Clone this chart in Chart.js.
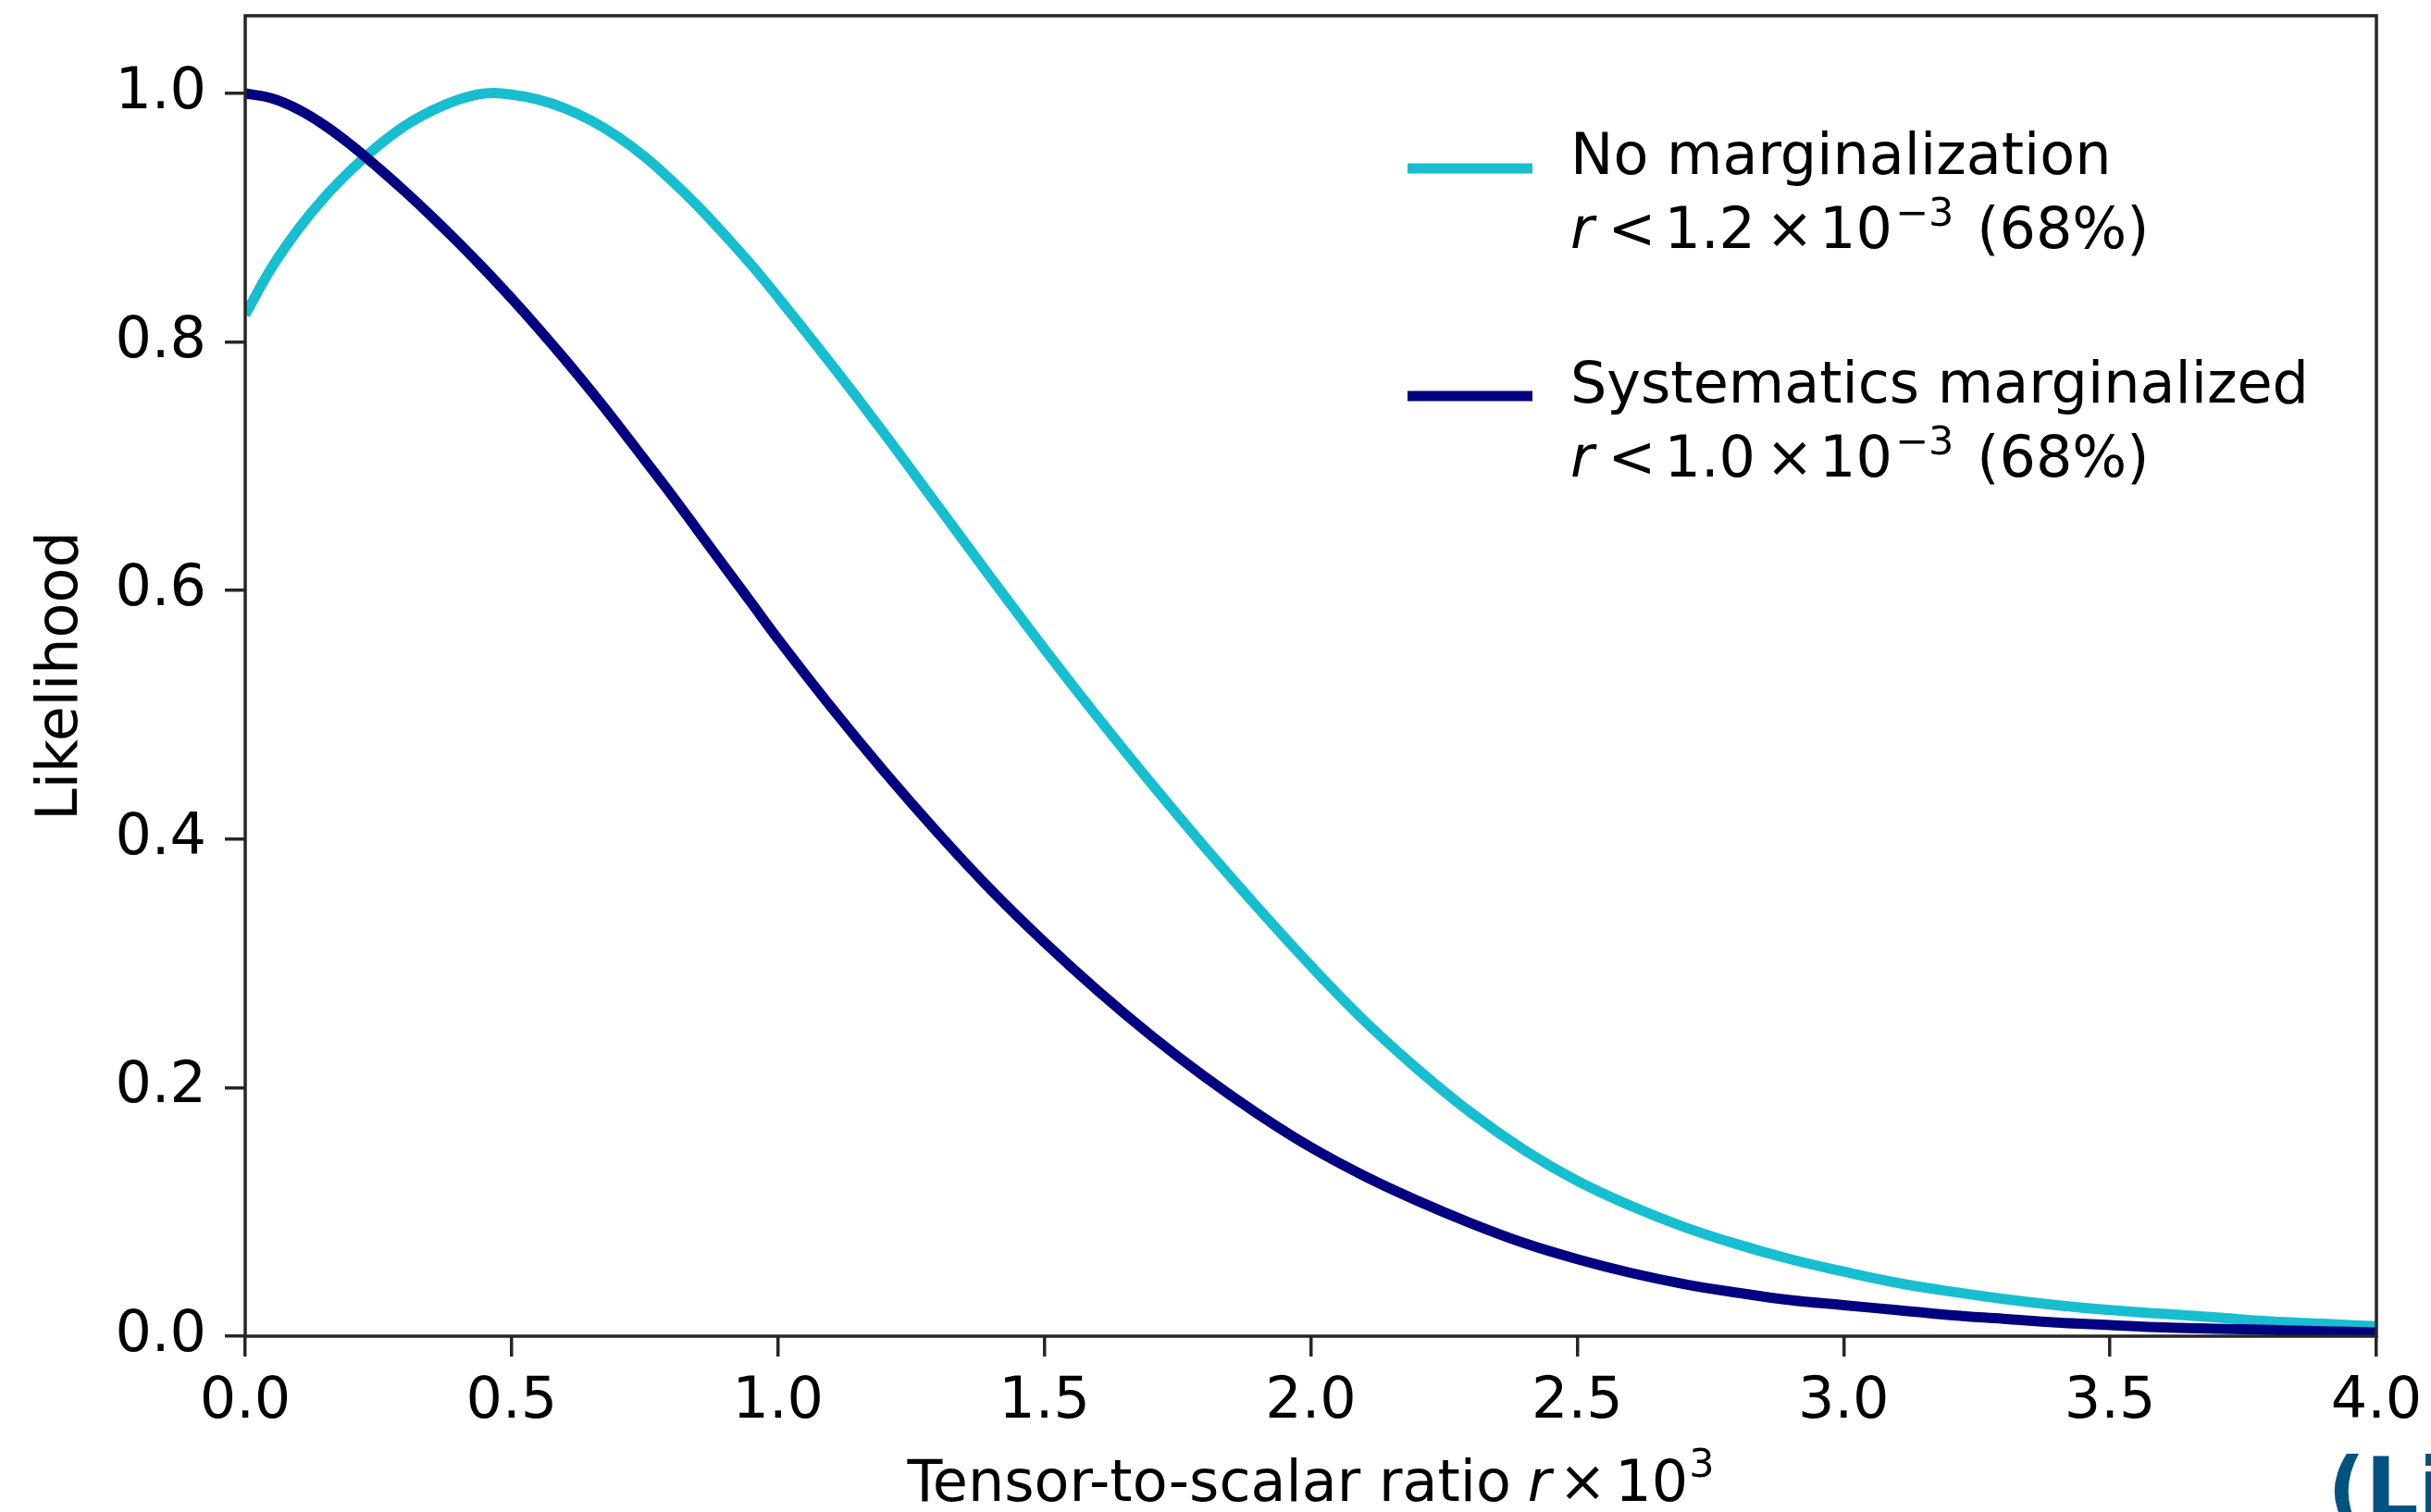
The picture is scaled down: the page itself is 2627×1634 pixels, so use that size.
<!DOCTYPE html>
<html>
<head>
<meta charset="utf-8">
<script src="https://cdn.jsdelivr.net/npm/chart.js@4.4.1/dist/chart.umd.min.js"></script>
<style>
  html, body { margin: 0; padding: 0; background: #ffffff; }
  #wrap { width: 2627px; height: 1634px; position: relative; background: #ffffff; }
  canvas { display: block; }
</style>
</head>
<body>
<div id="wrap"><canvas id="chart" width="2627" height="1634"></canvas></div>
<script>
// ---- Data ----
const rValues = [0, 0.05, 0.1, 0.15, 0.2, 0.25, 0.3, 0.35, 0.4, 0.45, 0.5, 0.55, 0.6, 0.65, 0.7, 0.75, 0.8, 0.85, 0.9, 0.95,
                 1.0, 1.1, 1.2, 1.3, 1.4, 1.5, 1.6, 1.7, 1.8, 1.9, 2.0, 2.1, 2.2, 2.3, 2.4, 2.5, 2.6, 2.7, 2.8, 2.9,
                 3.0, 3.1, 3.2, 3.3, 3.4, 3.5, 3.6, 3.7, 3.8, 3.9, 4.0];

const noMarginalization = [0.822, 0.860, 0.891, 0.917, 0.939, 0.958, 0.974, 0.986, 0.995, 1.000, 0.999, 0.995, 0.988, 0.978, 0.965, 0.949, 0.930, 0.909, 0.886, 0.862,
                           0.836, 0.782, 0.726, 0.668, 0.610, 0.553, 0.498, 0.445, 0.394, 0.345, 0.298, 0.254, 0.215, 0.180, 0.150, 0.125, 0.105, 0.088, 0.074, 0.062,
                           0.052, 0.043, 0.036, 0.030, 0.025, 0.021, 0.018, 0.015, 0.012, 0.010, 0.008];

const systematicsMarginalized = [1.000, 0.996, 0.987, 0.974, 0.958, 0.940, 0.921, 0.901, 0.880, 0.858, 0.835, 0.811, 0.786, 0.760, 0.733, 0.705, 0.677, 0.648, 0.619, 0.590,
                                 0.561, 0.506, 0.454, 0.405, 0.359, 0.317, 0.278, 0.242, 0.209, 0.179, 0.152, 0.129, 0.109, 0.091, 0.075, 0.062, 0.051, 0.042, 0.035, 0.029,
                                 0.025, 0.021, 0.017, 0.014, 0.011, 0.009, 0.007, 0.006, 0.005, 0.004, 0.003];

const seriesNames = ['No marginalization', 'Systematics marginalized'];
const seriesLimits = ['1.2', '1.0'];
const seriesConfidence = '(68%)';
const seriesColors = ['#17becf', '#000080'];

const xTicks = [0, 0.5, 1.0, 1.5, 2.0, 2.5, 3.0, 3.5, 4.0];
const yTicks = [0, 0.2, 0.4, 0.6, 0.8, 1.0];
const xRange = [0, 4];
const yRange = [0, 1.0625];

const yTitle = 'Likelihood';
const xTitleMain = 'Tensor-to-scalar ratio';
const watermark = '(Li';

// ---- Styles ----
const FAMILY = "'DejaVu Sans'";
const FS = 62;
const SUP = 43;
const SPINE = '#262626';

function toPoints(ys) { return rValues.map((x, i) => ({ x: x, y: ys[i] })); }

function drawRuns(ctx, runs, x, y) {
  let cx = x;
  for (const r of runs) {
    cx += r.gap || 0;
    ctx.font = r.font;
    ctx.fillText(r.text, cx, y + (r.dy || 0));
    cx += ctx.measureText(r.text).width;
  }
  return cx;
}
function runsWidth(ctx, runs) {
  let w = 0;
  for (const r of runs) {
    w += r.gap || 0;
    ctx.font = r.font;
    w += ctx.measureText(r.text).width;
  }
  return w;
}
const normal = `${FS}px ${FAMILY}`;
const italic = `italic ${FS}px ${FAMILY}`;
const small = `${SUP}px ${FAMILY}`;

const decorPlugin = {
  id: 'decor',
  afterDatasetsDraw(chart) {
    const { ctx, chartArea: a } = chart;
    ctx.save();
    ctx.strokeStyle = SPINE;
    ctx.lineWidth = 3.5;
    ctx.strokeRect(a.left, a.top, a.right - a.left, a.bottom - a.top);
    ctx.restore();
  },
  afterDraw(chart) {
    const { ctx, chartArea: a } = chart;
    ctx.save();
    ctx.fillStyle = '#000000';
    ctx.textBaseline = 'alphabetic';
    ctx.textAlign = 'left';

    // ---- legend ----
    const handleX0 = 1521, handleX1 = 1656;
    const handleY = [182, 428];
    const textX = 1697;
    const baseY = [[188, 268], [435, 515]];
    chart.data.datasets.forEach((ds, i) => {
      ctx.strokeStyle = ds.borderColor;
      ctx.lineWidth = ds.borderWidth;
      ctx.lineCap = 'butt';
      ctx.beginPath();
      ctx.moveTo(handleX0, handleY[i]);
      ctx.lineTo(handleX1, handleY[i]);
      ctx.stroke();
      ctx.fillStyle = '#000000';
      ctx.font = normal;
      ctx.fillText(ds.label, textX, baseY[i][0]);
      drawRuns(ctx, [
        { text: 'r', font: italic },
        { text: '<', font: normal, gap: 15 },
        { text: seriesLimits[i], font: normal, gap: 9 },
        { text: '×', font: normal, gap: 11 },
        { text: '10', font: normal, gap: 6 },
        { text: '−3', font: small, gap: 3, dy: -24 },
        { text: seriesConfidence, font: normal, gap: 25 }
      ], textX, baseY[i][1]);
    });

    // ---- x axis title ----
    const xRuns = [
      { text: xTitleMain, font: normal },
      { text: 'r', font: italic, gap: 18 },
      { text: '×', font: normal, gap: 8 },
      { text: '10', font: normal, gap: 9 },
      { text: '3', font: small, gap: 1, dy: -26 }
    ];
    const w = runsWidth(ctx, xRuns);
    const cx = (a.left + a.right) / 2;
    ctx.fillStyle = '#000000';
    drawRuns(ctx, xRuns, cx - w / 2, 1622);

    // ---- watermark text cut at the edge ----
    ctx.font = `bold 90px ${FAMILY}`;
    ctx.fillStyle = '#00527f';
    ctx.fillText(watermark, 2515, 1640);
    ctx.restore();
  }
};

const tickFont = { family: FAMILY, size: FS };

new Chart(document.getElementById('chart'), {
  type: 'line',
  data: {
    datasets: [
      {
        label: seriesNames[0],
        data: toPoints(noMarginalization),
        borderColor: seriesColors[0],
        backgroundColor: seriesColors[0],
        borderWidth: 11,
        pointRadius: 0,
        tension: 0.4,
        cubicInterpolationMode: 'default',
        borderJoinStyle: 'round',
        fill: false,
        clip: 0,
        order: 2
      },
      {
        label: seriesNames[1],
        data: toPoints(systematicsMarginalized),
        borderColor: seriesColors[1],
        backgroundColor: seriesColors[1],
        borderWidth: 11,
        pointRadius: 0,
        tension: 0.4,
        cubicInterpolationMode: 'default',
        borderJoinStyle: 'round',
        fill: false,
        clip: 0,
        order: 1
      }
    ]
  },
  options: {
    responsive: false,
    animation: false,
    devicePixelRatio: 1,
    layout: { padding: { left: 0, right: 59, top: 17, bottom: 0 } },
    plugins: {
      legend: { display: false },
      tooltip: { enabled: false },
      title: { display: false }
    },
    scales: {
      x: {
        type: 'linear',
        position: 'bottom',
        min: xRange[0],
        max: xRange[1],
        afterBuildTicks: (scale) => { scale.ticks = xTicks.map(v => ({ value: v })); },
        afterFit: (scale) => { scale.height = 190; scale.paddingLeft = 0; scale.paddingRight = 0; },
        border: { display: false },
        grid: {
          display: true,
          drawOnChartArea: false,
          drawTicks: true,
          tickLength: 22,
          tickWidth: 3.5,
          tickColor: SPINE,
          color: SPINE,
          lineWidth: 3.5
        },
        ticks: {
          font: tickFont,
          color: '#000000',
          padding: 13,
          maxRotation: 0,
          autoSkip: false,
          callback: (v) => Number(v).toFixed(1)
        },
        title: { display: false }
      },
      y: {
        type: 'linear',
        position: 'left',
        min: yRange[0],
        max: yRange[1],
        afterBuildTicks: (scale) => { scale.ticks = yTicks.map(v => ({ value: v })); },
        afterFit: (scale) => { scale.width = 265; scale.paddingTop = 0; scale.paddingBottom = 0; },
        border: { display: false },
        grid: {
          display: true,
          drawOnChartArea: false,
          drawTicks: true,
          tickLength: 22,
          tickWidth: 3.5,
          tickColor: SPINE,
          color: SPINE,
          lineWidth: 3.5
        },
        ticks: {
          font: tickFont,
          color: '#000000',
          padding: 20,
          autoSkip: false,
          callback: (v) => Number(v).toFixed(1)
        },
        title: {
          display: true,
          text: yTitle,
          color: '#000000',
          font: { family: FAMILY, size: FS },
          padding: { top: 30, bottom: 0 }
        }
      }
    }
  },
  plugins: [decorPlugin]
});
</script>
</body>
</html>
